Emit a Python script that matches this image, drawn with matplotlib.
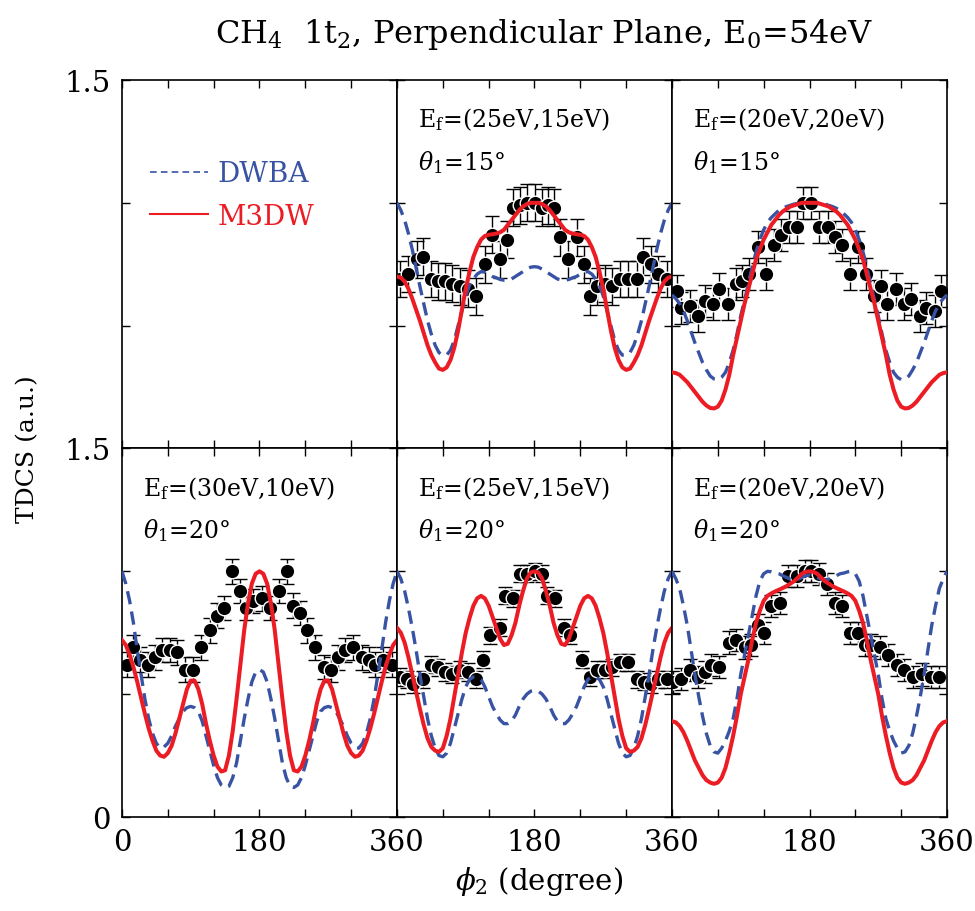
import numpy as np
import matplotlib
matplotlib.use("Agg")
import matplotlib.pyplot as plt
from matplotlib.lines import Line2D

plt.rcParams['font.family'] = 'DejaVu Serif'
plt.rcParams['mathtext.fontset'] = 'dejavuserif'

RED = '#ec1c24'
BLUE = '#3953a4'

# theory curves sampled every 5 degrees
phi_th = np.arange(0, 361, 5)

# --- top row, theta1 = 15 deg ---
dwba_25_15_t15 = [1.0, 0.97, 0.93, 0.875, 0.81, 0.735, 0.66, 0.59, 0.52, 0.465, 0.42, 0.39, 0.38, 0.38, 0.40, 0.44, 0.50, 0.56,
                  0.62, 0.665, 0.69, 0.71, 0.72, 0.718, 0.71, 0.70, 0.695, 0.688, 0.685, 0.686, 0.69, 0.70, 0.71, 0.72, 0.73,
                  0.738, 0.74,
                  0.738, 0.73, 0.72, 0.71, 0.70, 0.69, 0.686, 0.685, 0.688, 0.695, 0.70, 0.71, 0.718, 0.72, 0.71, 0.69, 0.665,
                  0.62, 0.56, 0.50, 0.44, 0.40, 0.38, 0.38, 0.39, 0.42, 0.465, 0.52, 0.59, 0.66, 0.735, 0.81, 0.875, 0.93, 0.97, 1.0]
m3dw_25_15_t15 = [0.70, 0.695, 0.68, 0.65, 0.61, 0.565, 0.52, 0.47, 0.42, 0.38, 0.35, 0.325, 0.32, 0.33, 0.36, 0.41, 0.48, 0.565,
                  0.65, 0.72, 0.78, 0.82, 0.85, 0.865, 0.87, 0.872, 0.875, 0.88, 0.89, 0.91, 0.93, 0.95, 0.97, 0.985, 0.995,
                  1.0, 1.0,
                  1.0, 0.995, 0.985, 0.97, 0.95, 0.93, 0.91, 0.89, 0.88, 0.875, 0.872, 0.87, 0.865, 0.85, 0.82, 0.78, 0.72,
                  0.65, 0.565, 0.48, 0.41, 0.36, 0.33, 0.32, 0.325, 0.35, 0.38, 0.42, 0.47, 0.52, 0.565, 0.61, 0.65, 0.68, 0.695, 0.70]
exp_phi_25_15_t15 = [4, 15, 26, 34, 45, 54, 63, 72, 82, 93, 104, 115, 124, 135, 144, 152, 161, 170, 181, 190, 198, 205, 214, 224,
                     235, 245, 253, 262, 272, 281, 292, 303, 314, 322, 333, 342, 353]
exp_val_25_15_t15 = [0.69, 0.71, 0.77, 0.78, 0.69, 0.68, 0.68, 0.67, 0.66, 0.65, 0.62, 0.75, 0.87, 0.77, 0.85, 0.98, 0.99, 1.0, 1.0,
                     0.98, 0.99, 0.98, 0.86, 0.77, 0.86, 0.75, 0.62, 0.66, 0.67, 0.66, 0.69, 0.69, 0.69, 0.78, 0.75, 0.71, 0.69]

dwba_20_20_t15 = [0.625, 0.61, 0.59, 0.56, 0.52, 0.475, 0.43, 0.39, 0.35, 0.32, 0.295, 0.283, 0.28, 0.29, 0.31, 0.35, 0.40, 0.465,
                  0.54, 0.605, 0.67, 0.74, 0.80, 0.85, 0.89, 0.92, 0.94, 0.955, 0.97, 0.978, 0.985, 0.99, 0.995, 0.998, 1.0,
                  1.0, 1.0,
                  1.0, 1.0, 0.998, 0.995, 0.99, 0.985, 0.978, 0.97, 0.955, 0.94, 0.92, 0.89, 0.85, 0.80, 0.74, 0.67, 0.605,
                  0.54, 0.465, 0.40, 0.35, 0.31, 0.29, 0.28, 0.283, 0.295, 0.32, 0.35, 0.39, 0.43, 0.475, 0.52, 0.56, 0.59, 0.61, 0.625]
m3dw_20_20_t15 = [0.31, 0.307, 0.30, 0.285, 0.27, 0.25, 0.23, 0.21, 0.19, 0.175, 0.165, 0.163, 0.17, 0.195, 0.24, 0.30, 0.38, 0.45,
                  0.52, 0.59, 0.65, 0.71, 0.77, 0.81, 0.85, 0.88, 0.91, 0.93, 0.95, 0.965, 0.975, 0.985, 0.99, 0.995, 1.0,
                  1.0, 1.0,
                  1.0, 1.0, 0.995, 0.99, 0.985, 0.975, 0.965, 0.95, 0.93, 0.91, 0.88, 0.85, 0.81, 0.77, 0.71, 0.65, 0.59,
                  0.52, 0.45, 0.38, 0.30, 0.24, 0.195, 0.17, 0.163, 0.165, 0.175, 0.19, 0.21, 0.23, 0.25, 0.27, 0.285, 0.30, 0.307, 0.31]
exp_phi_20_20_t15 = [6, 12, 23, 34, 43, 54, 62, 73, 84, 92, 101, 112, 123, 134, 143, 153, 163, 171, 182, 193, 204, 213, 222, 233,
                     243, 254, 265, 273, 282, 293, 304, 313, 324, 333, 344, 352]
exp_val_20_20_t15 = [0.64, 0.57, 0.58, 0.54, 0.60, 0.59, 0.65, 0.59, 0.67, 0.68, 0.71, 0.82, 0.71, 0.83, 0.87, 0.90, 0.90, 1.0, 1.0,
                     0.90, 0.90, 0.86, 0.83, 0.71, 0.82, 0.71, 0.62, 0.66, 0.59, 0.65, 0.59, 0.61, 0.54, 0.57, 0.56, 0.64]

# --- bottom row, theta1 = 20 deg ---
dwba_30_10_t20 = [1.0, 0.95, 0.88, 0.79, 0.68, 0.58, 0.48, 0.40, 0.34, 0.30, 0.28, 0.285, 0.30, 0.33, 0.37, 0.40, 0.43, 0.445,
                  0.45, 0.445, 0.43, 0.39, 0.33, 0.27, 0.21, 0.16, 0.13, 0.12, 0.125, 0.16, 0.22, 0.31, 0.40, 0.48, 0.55,
                  0.59, 0.60,
                  0.59, 0.55, 0.48, 0.40, 0.31, 0.22, 0.16, 0.125, 0.12, 0.13, 0.16, 0.21, 0.27, 0.33, 0.39, 0.43, 0.445,
                  0.45, 0.445, 0.43, 0.40, 0.37, 0.33, 0.30, 0.285, 0.28, 0.30, 0.34, 0.40, 0.48, 0.58, 0.68, 0.79, 0.88, 0.95, 1.0]
m3dw_30_10_t20 = [0.72, 0.70, 0.66, 0.61, 0.55, 0.485, 0.42, 0.36, 0.31, 0.27, 0.25, 0.245, 0.26, 0.29, 0.34, 0.40, 0.46, 0.52,
                  0.555, 0.555, 0.52, 0.46, 0.38, 0.31, 0.25, 0.205, 0.185, 0.19, 0.25, 0.35, 0.48, 0.62, 0.76, 0.87, 0.95,
                  0.99, 1.0,
                  0.99, 0.95, 0.87, 0.76, 0.62, 0.48, 0.35, 0.25, 0.19, 0.185, 0.205, 0.25, 0.31, 0.38, 0.46, 0.52, 0.555,
                  0.555, 0.52, 0.46, 0.40, 0.34, 0.29, 0.26, 0.245, 0.25, 0.27, 0.31, 0.36, 0.42, 0.485, 0.55, 0.61, 0.66, 0.70, 0.72]
exp_phi_30_10_t20 = [6, 15, 23, 34, 43, 52, 63, 72, 82, 93, 104, 115, 124, 133, 144, 154, 163, 172, 183, 194, 205, 216, 224, 233,
                     242, 253, 264, 274, 283, 292, 303, 314, 323, 331, 342, 353]
exp_val_30_10_t20 = [0.62, 0.69, 0.64, 0.62, 0.65, 0.68, 0.68, 0.67, 0.60, 0.60, 0.69, 0.76, 0.82, 0.85, 1.0, 0.92, 0.85, 0.88,
                     0.89, 0.85, 0.92, 1.0, 0.86, 0.83, 0.76, 0.69, 0.61, 0.60, 0.65, 0.68, 0.69, 0.65, 0.64, 0.62, 0.64, 0.62]

dwba_25_15_t20 = [1.0, 0.97, 0.92, 0.85, 0.77, 0.68, 0.58, 0.49, 0.40, 0.33, 0.28, 0.25, 0.245, 0.26, 0.30, 0.36, 0.42, 0.48,
                  0.53, 0.56, 0.57, 0.57, 0.56, 0.53, 0.49, 0.45, 0.42, 0.395, 0.38, 0.38, 0.39, 0.415, 0.45, 0.48, 0.50,
                  0.512, 0.515,
                  0.512, 0.50, 0.48, 0.45, 0.415, 0.39, 0.38, 0.38, 0.395, 0.42, 0.45, 0.49, 0.53, 0.56, 0.57, 0.57, 0.56,
                  0.53, 0.48, 0.42, 0.36, 0.30, 0.26, 0.245, 0.25, 0.28, 0.33, 0.40, 0.49, 0.58, 0.68, 0.77, 0.85, 0.92, 0.97, 1.0]
m3dw_25_15_t20 = [0.77, 0.75, 0.71, 0.65, 0.58, 0.51, 0.44, 0.375, 0.32, 0.285, 0.27, 0.265, 0.28, 0.33, 0.40, 0.49, 0.58, 0.67,
                  0.75, 0.81, 0.86, 0.89, 0.90, 0.89, 0.86, 0.815, 0.77, 0.725, 0.70, 0.705, 0.74, 0.79, 0.86, 0.92, 0.97,
                  0.995, 1.0,
                  0.995, 0.97, 0.92, 0.86, 0.79, 0.74, 0.705, 0.70, 0.725, 0.77, 0.815, 0.86, 0.89, 0.90, 0.89, 0.86, 0.81,
                  0.75, 0.67, 0.58, 0.49, 0.40, 0.33, 0.28, 0.265, 0.27, 0.285, 0.32, 0.375, 0.44, 0.51, 0.58, 0.65, 0.71, 0.75, 0.77]
exp_phi_25_15_t20 = [4, 13, 21, 34, 45, 54, 63, 72, 82, 93, 104, 113, 122, 135, 141, 152, 161, 170, 181, 190, 196, 207, 218, 226,
                     242, 253, 262, 272, 281, 292, 303, 314, 323, 333, 342, 353]
exp_val_25_15_t20 = [0.57, 0.56, 0.54, 0.56, 0.62, 0.61, 0.59, 0.58, 0.60, 0.59, 0.56, 0.64, 0.74, 0.77, 0.90, 0.89, 0.99, 0.99,
                     1.0, 0.99, 0.90, 0.89, 0.77, 0.74, 0.64, 0.57, 0.60, 0.60, 0.61, 0.63, 0.63, 0.56, 0.55, 0.54, 0.56, 0.56]

dwba_20_20_t20 = [1.0, 0.97, 0.93, 0.86, 0.78, 0.68, 0.58, 0.49, 0.41, 0.34, 0.29, 0.265, 0.26, 0.28, 0.31, 0.35, 0.40, 0.48,
                  0.58, 0.66, 0.74, 0.82, 0.90, 0.96, 0.99, 1.0, 0.998, 0.993, 0.99, 0.982, 0.975, 0.968, 0.965, 0.968, 0.975,
                  0.982, 0.985,
                  0.982, 0.975, 0.968, 0.965, 0.968, 0.975, 0.982, 0.99, 0.993, 0.998, 1.0, 0.99, 0.96, 0.90, 0.82, 0.74, 0.66,
                  0.58, 0.48, 0.40, 0.35, 0.31, 0.28, 0.26, 0.265, 0.29, 0.34, 0.41, 0.49, 0.58, 0.68, 0.78, 0.86, 0.93, 0.97, 1.0]
m3dw_20_20_t20 = [0.39, 0.385, 0.37, 0.345, 0.31, 0.27, 0.23, 0.20, 0.17, 0.15, 0.14, 0.135, 0.14, 0.16, 0.20, 0.26, 0.33, 0.41,
                  0.50, 0.57, 0.64, 0.72, 0.79, 0.84, 0.88, 0.90, 0.91, 0.918, 0.925, 0.932, 0.94, 0.95, 0.96, 0.975, 0.99,
                  0.998, 1.0,
                  0.998, 0.99, 0.975, 0.96, 0.95, 0.94, 0.932, 0.925, 0.918, 0.91, 0.90, 0.88, 0.84, 0.79, 0.72, 0.64, 0.57,
                  0.50, 0.41, 0.33, 0.26, 0.20, 0.16, 0.14, 0.135, 0.14, 0.15, 0.17, 0.20, 0.23, 0.27, 0.31, 0.345, 0.37, 0.385, 0.39]
exp_phi_20_20_t20 = [1, 12, 23, 34, 43, 51, 62, 75, 84, 95, 104, 113, 121, 130, 141, 152, 163, 174, 182, 193, 203, 213, 222, 233,
                     243, 252, 261, 272, 283, 294, 304, 315, 327, 339, 350]
exp_val_20_20_t20 = [0.55, 0.56, 0.60, 0.57, 0.59, 0.62, 0.61, 0.71, 0.72, 0.69, 0.70, 0.78, 0.75, 0.86, 0.87, 0.98, 0.98, 1.0,
                     1.0, 0.99, 0.95, 0.87, 0.86, 0.75, 0.75, 0.70, 0.70, 0.69, 0.66, 0.62, 0.60, 0.57, 0.58, 0.57, 0.57]

# (row, col, Ef label, theta1, dwba, m3dw, exp phi, exp value, exp error)
panels = [
    (0, 1, '(25eV,15eV)', '15', dwba_25_15_t15, m3dw_25_15_t15, exp_phi_25_15_t15, exp_val_25_15_t15, 0.075),
    (0, 2, '(20eV,20eV)', '15', dwba_20_20_t15, m3dw_20_20_t15, exp_phi_20_20_t15, exp_val_20_20_t15, 0.065),
    (1, 0, '(30eV,10eV)', '20', dwba_30_10_t20, m3dw_30_10_t20, exp_phi_30_10_t20, exp_val_30_10_t20, 0.05),
    (1, 1, '(25eV,15eV)', '20', dwba_25_15_t20, m3dw_25_15_t20, exp_phi_25_15_t20, exp_val_25_15_t20, 0.035),
    (1, 2, '(20eV,20eV)', '20', dwba_20_20_t20, m3dw_20_20_t20, exp_phi_20_20_t20, exp_val_20_20_t20, 0.045),
]

fig, axes = plt.subplots(2, 3, figsize=(9.75, 9.12), dpi=100)
fig.subplots_adjust(left=0.1251, right=0.9713, bottom=0.1031, top=0.9112, wspace=0, hspace=0)

for r in range(2):
    for c in range(3):
        ax = axes[r, c]
        ax.set_xlim(0, 360)
        ax.set_ylim(0, 1.5)
        ax.set_xticks(np.arange(0, 361, 60))
        ax.set_yticks([0, 0.5, 1.0, 1.5])
        ax.tick_params(direction='in', top=True, right=True, length=6, width=1,
                       labelsize=21, pad=8)
        for s in ax.spines.values():
            s.set_linewidth(1.2)
        # tick labels only on the outer edges
        if r == 1:
            xl = ['' if c > 0 else '0', '', '', '180', '', '', '360']
        else:
            xl = [''] * 7
        ax.set_xticklabels(xl)
        if c == 0:
            yl = ['0' if r == 1 else '', '', '', '1.5']
        else:
            yl = [''] * 4
        ax.set_yticklabels(yl)

for r, c, ef, th, dw, m3, ephi, eval_, err in panels:
    ax = axes[r, c]
    ax.errorbar(ephi, eval_, yerr=err, fmt='o', color='black', ms=10.5, mec='white', mew=1.0,
                ecolor='black', elinewidth=1.0, capsize=5, capthick=1.0, zorder=2)
    ax.plot(phi_th, dw, color=BLUE, lw=2.4, dashes=(4, 2.2), zorder=3)
    ax.plot(phi_th, m3, color=RED, lw=2.9, zorder=4)
    ax.text(0.075, 0.895, r'E$_\mathrm{f}$=' + ef, transform=ax.transAxes, fontsize=17, va='center')
    ax.text(0.075, 0.78, r'$\theta_1$=' + th + '°', transform=ax.transAxes, fontsize=17, va='center')

# legend in the empty corner panel
handles = [Line2D([], [], color=BLUE, lw=1.2, dashes=(4, 2.5)),
           Line2D([], [], color=RED, lw=1.5)]
axes[0, 0].legend(handles, ['DWBA', 'M3DW'], loc='upper left', bbox_to_anchor=(0.01, 0.85),
                  frameon=False, fontsize=20, handlelength=2.1, handletextpad=0.35,
                  labelspacing=0.55, labelcolor=[BLUE, RED])

fig.text(0.558, 0.962, r'CH$_4$  1t$_2$, Perpendicular Plane, E$_0$=54eV',
         ha='center', va='center', fontsize=23)
fig.text(0.028, 0.507, 'TDCS (a.u.)', rotation=90, ha='center', va='center', fontsize=18)
fig.text(0.553, 0.033, r'$\phi_2$ (degree)', ha='center', va='center', fontsize=21)

fig.savefig('out.png', dpi=100)
